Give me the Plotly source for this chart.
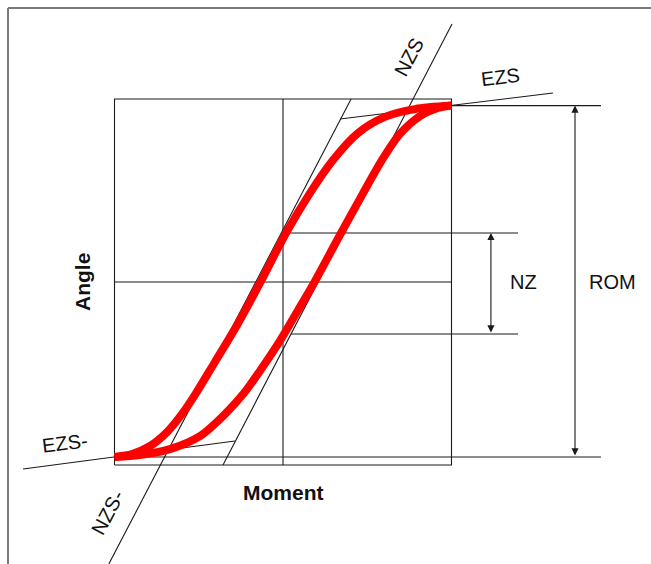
import numpy as np
import plotly.graph_objects as go

# Hysteresis loop (moment vs. angle), arbitrary units; box spans -100..100 on both axes
load_moment = [-100, -89.6, -78.9, -68.8, -59.9, -51.6, -40.4, -27.9, -13.6, 1.8, 16.0, 29.7, 44.5, 60.5, 78.3, 100]
load_angle = [-95.6, -94.0, -89.6, -82.0, -72.1, -60.7, -43.7, -24.6, -0.5, 26.8, 48.6, 66.7, 81.4, 90.2, 94.5, 96.4]

unload_moment = [-100, -84.9, -67.1, -49.3, -35.0, -23.1, -12.5, -1.8, 8.3, 18.4, 33.8, 46.9, 58.8, 69.4, 81.3, 92.0, 100]
unload_angle = [-95.6, -94.5, -91.3, -84.2, -72.7, -60.7, -47.0, -32.2, -16.4, -0.5, 25.7, 47.5, 66.7, 80.9, 90.7, 95.1, 96.4]

# Stiffness tangent lines (endpoints)
nzs_moment = [-35.6, 100.3]
nzs_angle = [-100, 141.0]
nzs_neg_moment = [-103.3, 40.4]
nzs_neg_angle = [-154.0, 100]
ezs_moment = [33.8, 160.2]
ezs_angle = [89.1, 103.3]
ezs_neg_moment = [-154.3, -28.5]
ezs_neg_angle = [-102.2, -86.9]

# Neutral zone and range of motion levels
nz_top, nz_bottom = 26.8, -28.4
rom_top, rom_bottom = 96.4, -95.6
nz_line_end, nz_arrow_x = 139.5, 123.4
rom_line_end, rom_arrow_x = 188.7, 173.3

INK = "#1a1a1a"
RED = "#ff0000"
FONT = "Liberation Sans, Arial, sans-serif"

fig = go.Figure()


def seg(xs, ys, color=INK, width=1.1):
    fig.add_trace(go.Scatter(x=xs, y=ys, mode="lines", hoverinfo="skip",
                             line=dict(color=color, width=width), showlegend=False))


# frame box and centre cross
seg([-100, 100, 100, -100, -100], [-100, -100, 100, 100, -100])
seg([0, 0], [-100, 100])
seg([-100, 100], [0, 0])

# NZ level lines start where they meet the tangents
nz_top_start = float(np.interp(nz_top, nzs_neg_angle, nzs_neg_moment))
nz_bot_start = float(np.interp(nz_bottom, nzs_angle, nzs_moment))
seg([nz_top_start, nz_line_end], [nz_top, nz_top])
seg([nz_bot_start, nz_line_end], [nz_bottom, nz_bottom])

# ROM level lines
seg([100, rom_line_end], [rom_top, rom_top])
seg([-100, rom_line_end], [rom_bottom, rom_bottom])

# tangents
seg(nzs_moment, nzs_angle)
seg(nzs_neg_moment, nzs_neg_angle)
seg(ezs_moment, ezs_angle)
seg(ezs_neg_moment, ezs_neg_angle)

# loop branches
for xs, ys in ((load_moment, load_angle), (unload_moment, unload_angle)):
    fig.add_trace(go.Scatter(x=xs, y=ys, mode="lines", hoverinfo="skip", showlegend=False,
                             line=dict(color=RED, width=8, shape="spline", smoothing=0.8)))

annotations = []
# double-headed dimension arrows
for xa, top, bot in ((nz_arrow_x, nz_top, nz_bottom), (rom_arrow_x, rom_top, rom_bottom)):
    annotations.append(dict(x=xa, y=top, ax=xa, ay=bot, xref="x", yref="y", axref="x", ayref="y",
                            showarrow=True, arrowhead=2, arrowsize=1.3, arrowwidth=1.1,
                            arrowcolor=INK, arrowside="end+start", text=""))

labels = [
    ("NZS", 74.8, 122.9, -62, False),
    ("EZS", 128.8, 112.0, -7, False),
    ("EZS-", -129.4, -88.0, -7, False),
    ("NZS-", -103.9, -125.7, -62, False),
    ("Angle", -119.3, 0, -90, True),
    ("Moment", 0, -114.8, 0, True),
    ("NZ", 143.0, 0, 0, False),
    ("ROM", 195.3, 0, 0, False),
]
for txt, xm, ya, ang, bold in labels:
    annotations.append(dict(x=xm, y=ya, xref="x", yref="y", showarrow=False,
                            text=f"<b>{txt}</b>" if bold else txt, textangle=ang,
                            font=dict(family=FONT, size=21 if bold else 20, color="#111111"),
                            xanchor="center", yanchor="middle"))

# outer border (top and left edges)
shapes = [
    dict(type="line", xref="paper", yref="paper", x0=8 / 651, x1=1.0, y0=1 - 8 / 564, y1=1 - 8 / 564,
         line=dict(color="#7a7a7a", width=2)),
    dict(type="line", xref="paper", yref="paper", x0=8 / 651, x1=8 / 651, y0=0, y1=1 - 8 / 564,
         line=dict(color="#7a7a7a", width=2)),
]

fig.update_layout(
    width=651, height=564,
    margin=dict(l=0, r=0, t=0, b=0),
    paper_bgcolor="white", plot_bgcolor="white",
    xaxis=dict(range=[-283 / 1.685, 368 / 1.685], visible=False, fixedrange=True),
    yaxis=dict(range=[-282 / 1.83, 282 / 1.83], visible=False, fixedrange=True),
    annotations=annotations,
    shapes=shapes,
)

fig.write_html("out.html")
